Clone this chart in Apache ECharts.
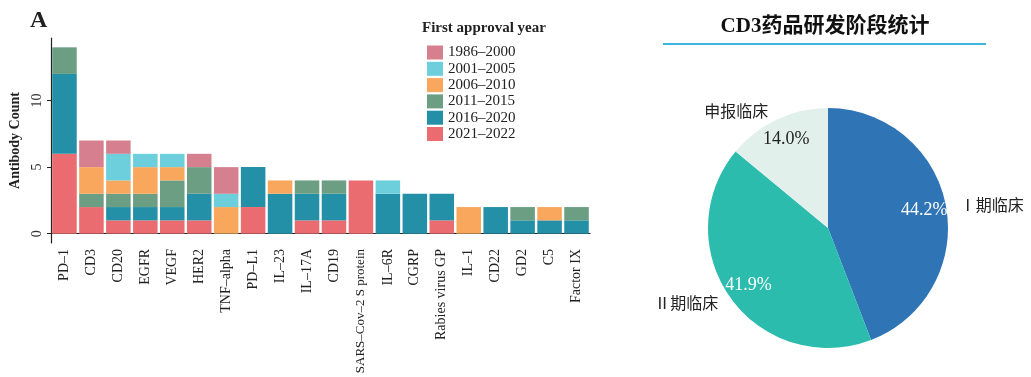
<!DOCTYPE html>
<html>
<head>
<meta charset="utf-8">
<script src="https://cdn.jsdelivr.net/npm/echarts@6/dist/echarts.min.js"></script>
<style>
html,body{margin:0;padding:0;background:#fff;}
#container1{width:1031px;height:377px;}
</style>
</head>
<body>
<div id="container1"></div>
<script>
// 靶点
var categories = ['PD–1','CD3','CD20','EGFR','VEGF','HER2','TNF–alpha','PD–L1','IL–23','IL–17A','CD19','SARS–Cov–2 S protein','IL–6R','CGRP','Rabies virus GP','IL–1','CD22','GD2','C5','Factor IX'];
// 各批准年份段的抗体数（堆叠从下到上）
var y2021_2022 = [6,2,1,1,1,1,0,2,0,1,1,4,0,0,1,0,0,0,0,0];
var y2016_2020 = [6,0,1,1,1,2,0,3,3,2,2,0,3,3,2,0,2,1,1,1];
var y2011_2015 = [2,1,1,1,2,2,0,0,0,1,1,0,0,0,0,0,0,1,0,1];
var y2006_2010 = [0,2,1,2,1,0,2,0,1,0,0,0,0,0,0,2,0,0,1,0];
var y2001_2005 = [0,0,2,1,1,0,1,0,0,0,0,0,1,0,0,0,0,0,0,0];
var y1986_2000 = [0,2,1,0,0,1,2,0,0,0,0,0,0,0,0,0,0,0,0,0];
var yTicks = [0,5,10];
// 饼图
var stageNames = ['Ⅰ期临床','Ⅱ期临床','申报临床'];
var stageValues = [44.2,41.9,14.0];

var serif = '"Liberation Serif","DejaVu Serif",serif';
var cjk = '"Noto Sans CJK SC",sans-serif';

var myChart = echarts.init(document.getElementById('container1'));

var groups = [
    {name:'2021–2022', data:y2021_2022, color:'#ea6b70'},
    {name:'2016–2020', data:y2016_2020, color:'#2390a8'},
    {name:'2011–2015', data:y2011_2015, color:'#6b9e83'},
    {name:'2006–2010', data:y2006_2010, color:'#f9a75c'},
    {name:'2001–2005', data:y2001_2005, color:'#6ccfdb'},
    {name:'1986–2000', data:y1986_2000, color:'#d6808f'}
];

var barSeries = groups.map(function(g){
    return {
        name:g.name,
        type:'bar',
        stack:'total',
        barCategoryGap:'9%',
        itemStyle:{color:g.color},
        data:g.data
    };
});

// 最长的标签字号略小，避免超出画布
var axisData = categories.map(function(c){
    return c.length > 15 ? {value:c, textStyle:{fontSize:13}} : c;
});

var pieData = stageNames.map(function(n,i){
    return {name:n, value:stageValues[i]};
});
var pieColors = ['#2f74b5','#2bbcae','#e2f0ec'];

var option = {
    animation:false,
    title:[
        {text:'A', left:25, top:4, textStyle:{fontFamily:serif, fontSize:24, fontWeight:'bold', color:'#222'}},
        {text:'CD3药品研发阶段统计', left:820, top:11, textAlign:'center',
         textStyle:{fontFamily:'"Liberation Serif","Noto Sans CJK SC",serif', fontSize:21, fontWeight:'bold', color:'#111'}}
    ],
    graphic:[
        {type:'line', shape:{x1:663, y1:44, x2:986, y2:44}, style:{stroke:'#3cb4dc', lineWidth:2}},
        {type:'text', left:422, top:21, style:{text:'First approval year', font:'bold 15px ' + serif, fill:'#222'}}
    ],
    legend:{
        orient:'vertical',
        left:422,
        top:40,
        itemWidth:16,
        itemHeight:14,
        itemGap:1.3,
        icon:'rect',
        data:['1986–2000','2001–2005','2006–2010','2011–2015','2016–2020','2021–2022'],
        textStyle:{fontFamily:serif, fontSize:15, color:'#222', lineHeight:14}
    },
    grid:{left:51, top:38, width:539, height:205, containLabel:false, outerBoundsMode:'none'},
    xAxis:{
        type:'category',
        data:axisData,
        axisLine:{lineStyle:{color:'#222', width:1.2}},
        axisTick:{alignWithLabel:true, length:4, lineStyle:{color:'#222'}},
        axisLabel:{rotate:90, interval:0, margin:6, fontFamily:serif, fontSize:14, color:'#222'}
    },
    yAxis:{
        type:'value',
        min:-0.7,
        max:14.7,
        name:'Antibody Count',
        nameLocation:'middle',
        nameGap:26,
        nameTextStyle:{fontFamily:serif, fontSize:14, fontWeight:'bold', color:'#222'},
        axisLine:{show:true, lineStyle:{color:'#222', width:1.2}},
        axisTick:{show:true, length:4, customValues:yTicks, lineStyle:{color:'#222'}},
        axisLabel:{rotate:90, margin:7, customValues:yTicks, fontFamily:serif, fontSize:14, color:'#333'},
        splitLine:{show:false}
    },
    series:barSeries.concat([
        {
            name:'阶段',
            type:'pie',
            center:[828,228],
            radius:[0,120],
            startAngle:90,
            clockwise:true,
            color:pieColors,
            silent:true,
            label:{
                show:true,
                position:'outside',
                formatter:'{b}',
                overflow:'none',
                fontFamily:cjk,
                fontSize:16,
                color:'#222'
            },
            labelLine:{show:false, length:9, length2:0},
            data:pieData
        },
        {
            name:'百分比',
            type:'pie',
            center:[828,228],
            radius:[70,120],
            startAngle:90,
            clockwise:true,
            silent:true,
            itemStyle:{color:'rgba(0,0,0,0)'},
            label:{
                show:true,
                position:'inside',
                formatter:function(p){ return p.value.toFixed(1) + '%'; },
                fontFamily:serif,
                fontSize:18,
                color:'#fff'
            },
            labelLine:{show:false},
            data:pieData.map(function(d,i){
                return {name:d.name, value:d.value, label:{color: i === 2 ? '#222' : '#fff'}};
            })
        }
    ])
};
myChart.setOption(option,true);
</script>
</body>
</html>
